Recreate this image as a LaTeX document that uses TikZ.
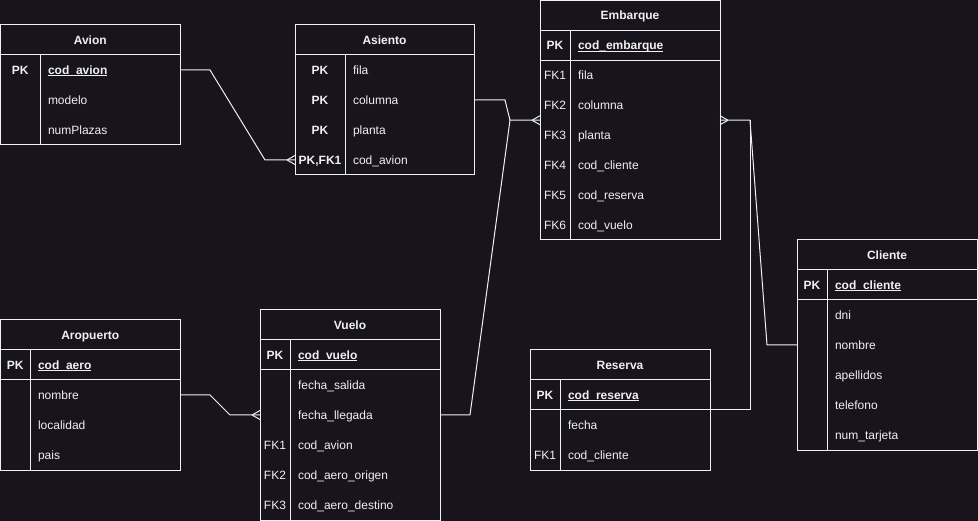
\documentclass[tikz,border=0pt]{standalone}
\usepackage{fontspec}
\setmainfont{Liberation Sans}
\definecolor{bg}{RGB}{24,20,29}
\definecolor{fg}{RGB}{240,240,240}
\newcommand\pkattr[1]{\setbox0\hbox{\textbf{#1}}\rlap{\rule[-1.9pt]{\wd0}{0.9pt}}\box0}
\tikzset{
  tbl/.style={draw=fg, line width=1pt, fill=bg, inner sep=0pt, outer sep=0pt, anchor=north west},
  rowbox/.style={inner sep=0pt, outer sep=0pt, minimum height=30pt},
  txt/.style={text=fg, inner sep=0pt, outer sep=0pt, font=\fontsize{12pt}{14pt}\selectfont},
  keytxt/.style={txt, anchor=base},
  attrtxt/.style={txt, anchor=base west},
  titletxt/.style={txt, anchor=base, font=\fontsize{12pt}{14pt}\selectfont\bfseries},
  conn/.style={draw=fg, line width=1pt},
}
% #1 name, #2 x0, #3 y0, #4 width, #5 height, #6 title
\newcommand\erTable[6]{%
  \node[tbl, minimum width=#4pt, minimum height=#5pt] (#1) at (#2,#3) {};
  \node[rowbox, minimum width=#4pt, anchor=north west] (#1-t) at (#2,#3) {};
  \node[titletxt] at ([yshift=-4.3pt]#1-t.center) {#6};
  \draw[conn] (#1-t.south west) -- (#1-t.south east);
}
% #1 name, #2 index, #3 width, #4 key width, #5 key, #6 attribute
\newcommand\erRow[6]{%
  \node[rowbox, minimum width=#3pt, anchor=north west] (#1-#2) at ([yshift={-(#2-1)*30pt}]#1-t.south west) {};
  \node[keytxt] at ([xshift={#4pt/2}, yshift=-4.3pt]#1-#2.west) {#5};
  \node[attrtxt] at ([xshift={#4pt+8pt}, yshift=-4.3pt]#1-#2.west) {#6};
}
% #1 name, #2 key width
\newcommand\erDivider[2]{%
  \draw[conn] ([xshift=#2pt]#1-t.south west) -- ([xshift=#2pt]#1.south west);
}
\newcommand\erPKsep[1]{\draw[conn] (#1-1.south west) -- (#1-1.south east);}
\newcommand\crowL[1]{\draw[conn] ([xshift=-8pt]#1) -- ([yshift=4.5pt]#1) ([xshift=-8pt]#1) -- ([yshift=-4.5pt]#1);}
\newcommand\crowR[1]{\draw[conn] ([xshift=8pt]#1) -- ([yshift=4.5pt]#1) ([xshift=8pt]#1) -- ([yshift=-4.5pt]#1);}
\begin{document}
\begin{tikzpicture}[x=1pt, y=-1pt]
\useasboundingbox (0,0) rectangle (978,521);
\fill[bg] (0,0) rectangle (978,521);

% Avion
\erTable{avion}{0.5}{25}{179.5}{120}{Avion}
\erRow{avion}{1}{179.5}{39.5}{\textbf{PK}}{\pkattr{cod\_avion}}
\erRow{avion}{2}{179.5}{39.5}{}{modelo}
\erRow{avion}{3}{179.5}{39.5}{}{numPlazas}
\erDivider{avion}{39.5}

% Asiento
\erTable{asiento}{295}{25}{179}{150}{Asiento}
\erRow{asiento}{1}{179}{50}{\textbf{PK}}{fila}
\erRow{asiento}{2}{179}{50}{\textbf{PK}}{columna}
\erRow{asiento}{3}{179}{50}{\textbf{PK}}{planta}
\erRow{asiento}{4}{179}{50}{\textbf{PK,FK1}}{cod\_avion}
\erDivider{asiento}{50}

% Embarque
\erTable{embarque}{540}{0.5}{180}{239.5}{Embarque}
\erRow{embarque}{1}{180}{30}{\textbf{PK}}{\pkattr{cod\_embarque}}
\erRow{embarque}{2}{180}{30}{FK1}{fila}
\erRow{embarque}{3}{180}{30}{FK2}{columna}
\erRow{embarque}{4}{180}{30}{FK3}{planta}
\erRow{embarque}{5}{180}{30}{FK4}{cod\_cliente}
\erRow{embarque}{6}{180}{30}{FK5}{cod\_reserva}
\erRow{embarque}{7}{180}{30}{FK6}{cod\_vuelo}
\erPKsep{embarque}
\erDivider{embarque}{30}

% Cliente
\erTable{cliente}{797}{240}{180}{210}{Cliente}
\erRow{cliente}{1}{180}{30}{\textbf{PK}}{\pkattr{cod\_cliente}}
\erRow{cliente}{2}{180}{30}{}{dni}
\erRow{cliente}{3}{180}{30}{}{nombre}
\erRow{cliente}{4}{180}{30}{}{apellidos}
\erRow{cliente}{5}{180}{30}{}{telefono}
\erRow{cliente}{6}{180}{30}{}{num\_tarjeta}
\erPKsep{cliente}
\erDivider{cliente}{30}

% Aropuerto
\erTable{aero}{0.5}{320}{179.5}{150}{Aropuerto}
\erRow{aero}{1}{179.5}{29.5}{\textbf{PK}}{\pkattr{cod\_aero}}
\erRow{aero}{2}{179.5}{29.5}{}{nombre}
\erRow{aero}{3}{179.5}{29.5}{}{localidad}
\erRow{aero}{4}{179.5}{29.5}{}{pais}
\erPKsep{aero}
\erDivider{aero}{29.5}

% Vuelo
\erTable{vuelo}{260}{310}{180}{210}{Vuelo}
\erRow{vuelo}{1}{180}{30}{\textbf{PK}}{\pkattr{cod\_vuelo}}
\erRow{vuelo}{2}{180}{30}{}{fecha\_salida}
\erRow{vuelo}{3}{180}{30}{}{fecha\_llegada}
\erRow{vuelo}{4}{180}{30}{FK1}{cod\_avion}
\erRow{vuelo}{5}{180}{30}{FK2}{cod\_aero\_origen}
\erRow{vuelo}{6}{180}{30}{FK3}{cod\_aero\_destino}
\erPKsep{vuelo}
\erDivider{vuelo}{30}

% Reserva
\erTable{reserva}{530}{350}{180}{120}{Reserva}
\erRow{reserva}{1}{180}{30}{\textbf{PK}}{\pkattr{cod\_reserva}}
\erRow{reserva}{2}{180}{30}{}{fecha}
\erRow{reserva}{3}{180}{30}{FK1}{cod\_cliente}
\erPKsep{reserva}
\erDivider{reserva}{30}

% Connectors
\draw[conn] (avion-1.east) -- ++(30,0) -- ([xshift=-30pt]asiento-4.west) -- (asiento-4.west);
\crowL{asiento-4.west}
\draw[conn] (asiento.east) -- ++(31,0) -- ([xshift=-30pt]embarque.west) -- (embarque.west);
\draw[conn] (vuelo.east) -- ++(30,0) -- ([xshift=-30pt]embarque.west);
\crowL{embarque.west}
\draw[conn] (embarque.east) -- ++(30,0) -- ([xshift=-30pt]cliente.west) -- (cliente.west);
\draw[conn] (reserva.east) -- ++(40,0) -- ([xshift=30pt]embarque.east);
\crowR{embarque.east}
\draw[conn] (aero.east) -- ++(30,0) -- ([xshift=-30pt]vuelo.west) -- (vuelo.west);
\crowL{vuelo.west}
\end{tikzpicture}
\end{document}
